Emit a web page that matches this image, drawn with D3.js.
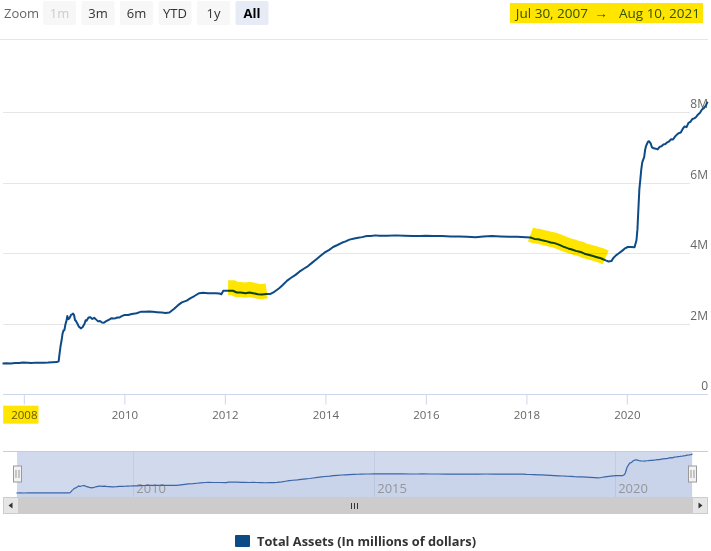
<!DOCTYPE html>
<html><head><meta charset="utf-8">
<script src="https://cdn.jsdelivr.net/npm/d3@7"></script>
<style>
html,body{margin:0;padding:0;background:#fff;}
svg{display:block;font-family:"Open Sans",sans-serif;}
</style></head><body>
<svg id="c" width="711" height="551"></svg>
<script>
// ---- data (Total Assets, millions of dollars) ----
const dates = [
"2007-07-30","2007-08-29","2007-09-26","2007-10-31","2007-11-28","2007-12-26",
"2008-01-30","2008-02-27","2008-03-26","2008-04-30","2008-05-28","2008-06-25","2008-07-30","2008-08-27",
"2008-09-10","2008-09-17","2008-09-24","2008-10-01","2008-10-08","2008-10-15","2008-10-22","2008-10-29",
"2008-11-05","2008-11-12","2008-11-19","2008-11-26","2008-12-03","2008-12-10","2008-12-17","2008-12-24","2008-12-31",
"2009-01-07","2009-01-14","2009-01-21","2009-01-28","2009-02-04","2009-02-11","2009-02-18","2009-02-25",
"2009-03-04","2009-03-18","2009-03-25","2009-04-01","2009-04-15","2009-04-29","2009-05-13","2009-05-27",
"2009-06-10","2009-06-24","2009-07-08","2009-07-22","2009-08-05","2009-08-19","2009-09-02","2009-09-16",
"2009-09-30","2009-10-14","2009-10-28","2009-11-11","2009-11-25","2009-12-09","2009-12-30",
"2010-01-27","2010-02-24","2010-03-31","2010-04-28","2010-05-26","2010-06-30","2010-07-28","2010-08-25",
"2010-09-29","2010-10-27","2010-11-24","2010-12-29",
"2011-01-26","2011-02-23","2011-03-30","2011-04-27","2011-05-25","2011-06-29","2011-07-27","2011-08-31",
"2011-09-28","2011-10-26","2011-11-23","2011-12-07","2011-12-21",
"2012-01-25","2012-02-29","2012-03-28","2012-04-25","2012-05-30","2012-06-27","2012-07-25","2012-08-29",
"2012-09-26","2012-10-31","2012-11-28","2012-12-26",
"2013-01-30","2013-02-27","2013-03-27","2013-04-24","2013-05-29","2013-06-26","2013-07-31","2013-08-28",
"2013-09-25","2013-10-30","2013-11-27","2013-12-25",
"2014-01-29","2014-02-26","2014-03-26","2014-04-30","2014-05-28","2014-06-25","2014-07-30","2014-08-27",
"2014-09-24","2014-10-29","2014-11-26","2014-12-31",
"2015-01-28","2015-03-25","2015-05-27","2015-07-29","2015-09-30","2015-11-25","2015-12-30",
"2016-02-24","2016-04-27","2016-06-29","2016-08-31","2016-10-26","2016-12-28",
"2017-02-22","2017-04-26","2017-06-28","2017-08-30","2017-10-25","2017-12-27",
"2018-01-31","2018-02-28","2018-03-28","2018-04-25","2018-05-30","2018-06-27","2018-07-25","2018-08-29",
"2018-09-26","2018-10-31","2018-11-28","2018-12-26",
"2019-01-30","2019-02-27","2019-03-27","2019-04-24","2019-05-29","2019-06-26","2019-07-31","2019-08-21",
"2019-09-11","2019-09-25","2019-10-16","2019-10-30","2019-11-27","2019-12-18",
"2020-01-08","2020-01-29","2020-02-26","2020-03-11","2020-03-18","2020-03-25","2020-04-01","2020-04-08",
"2020-04-15","2020-04-22","2020-04-29","2020-05-06","2020-05-13","2020-05-20","2020-05-27","2020-06-03",
"2020-06-10","2020-06-17","2020-06-24","2020-07-01","2020-07-15","2020-07-29","2020-08-12","2020-08-26",
"2020-09-09","2020-09-23","2020-10-07","2020-10-21","2020-11-04","2020-11-18","2020-12-02","2020-12-16","2020-12-30",
"2021-01-13","2021-01-27","2021-02-10","2021-02-24","2021-03-10","2021-03-24","2021-04-07","2021-04-21",
"2021-05-05","2021-05-19","2021-06-02","2021-06-16","2021-06-30","2021-07-14","2021-07-28","2021-08-10"
];
const assets = [
865000,872000,868000,880000,878000,892000,
888000,880000,890000,885000,890000,894000,902000,905000,
926000,1150000,1360000,1510000,1700000,1800000,1810000,1970000,
2060000,2210000,2120000,2140000,2190000,2250000,2260000,2280000,2240000,
2100000,2070000,2020000,1970000,1910000,1890000,1860000,1880000,
1900000,2000000,2090000,2080000,2170000,2180000,2130000,2160000,
2110000,2060000,2070000,2030000,2020000,2060000,2090000,2120000,
2150000,2140000,2150000,2170000,2170000,2200000,2240000,
2240000,2270000,2290000,2330000,2330000,2340000,2330000,2320000,
2310000,2300000,2310000,2420000,
2520000,2600000,2650000,2720000,2780000,2860000,2870000,2860000,
2860000,2860000,2850000,2830000,2930000,
2930000,2930000,2880000,2880000,2860000,2880000,2860000,2830000,
2820000,2840000,2840000,2900000,
3000000,3100000,3210000,3290000,3380000,3470000,3560000,3630000,
3720000,3830000,3920000,4010000,
4090000,4170000,4220000,4290000,4330000,4380000,4410000,4430000,
4450000,4480000,4480000,4500000,
4490000,4490000,4500000,4490000,4480000,4480000,4490000,
4480000,4480000,4470000,4470000,4460000,4450000,
4470000,4480000,4470000,4460000,4460000,4450000,
4440000,4400000,4390000,4360000,4330000,4300000,4280000,4230000,
4180000,4130000,4100000,4060000,
4030000,3980000,3950000,3920000,3880000,3850000,3790000,3760000,
3770000,3860000,3940000,3980000,4060000,4130000,
4170000,4170000,4160000,4360000,4670000,5250000,5810000,6080000,
6370000,6570000,6650000,6720000,6930000,7040000,7100000,7160000,
7170000,7140000,7090000,7000000,6970000,6960000,6940000,7010000,
7030000,7080000,7090000,7140000,7170000,7230000,7220000,7300000,7360000,
7400000,7420000,7520000,7590000,7570000,7690000,7720000,7800000,
7820000,7860000,7930000,7980000,8070000,8110000,8180000,8290000
];
const yTickValues = [0, 2000000, 4000000, 6000000, 8000000];
const yTickLabels = ["0", "2M", "4M", "6M", "8M"];
const xTickYears = [2008, 2010, 2012, 2014, 2016, 2018, 2020];
const navTickYears = [2010, 2015, 2020];
const zoomButtons = ["1m", "3m", "6m", "YTD", "1y", "All"];
const rangeStart = "Jul 30, 2007";
const rangeEnd = "Aug 10, 2021";
const legendLabel = "Total Assets (In millions of dollars)";
const highlightRanges = [["2012-01-20", "2012-11-05"], ["2018-01-05", "2019-08-12"]];

// ---- build ----
const parse = d3.timeParse("%Y-%m-%d");
const data = dates.map((d, i) => ({ date: parse(d), value: assets[i] }));
const svg = d3.select("#c");
const lineColor = "#0d4a86";
const yellow = "#ffe500";

const x = d3.scaleTime().domain(d3.extent(data, d => d.date)).range([2.5, 707.6]);
const y = d3.scaleLinear().domain([0, 10000000]).range([394, 41.5]);

svg.append("line").attr("x1", 0).attr("x2", 708).attr("y1", y(10000000) - 2).attr("y2", y(10000000) - 2)
  .attr("stroke", "#e6e6e6").attr("stroke-width", 1);

svg.append("g").selectAll("line").data(yTickValues.slice(1)).join("line")
  .attr("x1", 3).attr("x2", 690)
  .attr("y1", d => Math.round(y(d)) + 0.5).attr("y2", d => Math.round(y(d)) + 0.5)
  .attr("stroke", "#e6e6e6");

svg.append("g").selectAll("text").data(yTickValues).join("text")
  .attr("x", 708).attr("y", d => y(d) - 4)
  .attr("text-anchor", "end").attr("font-size", 12).attr("fill", "#666")
  .text((d, i) => yTickLabels[i]);

const xAxis = d3.axisBottom(x)
  .tickValues(xTickYears.map(yr => new Date(yr, 0, 1)))
  .tickFormat(d3.timeFormat("%Y"))
  .tickSize(10).tickSizeOuter(0).tickPadding(6);
const gx = svg.append("g").attr("transform", `translate(0,${Math.round(y(0)) + 0.5})`).call(xAxis);
gx.select(".domain").attr("stroke", "#ccd6eb").attr("d", "M3,0H708");
gx.selectAll(".tick line").attr("stroke", "#ccd6eb");
gx.selectAll(".tick text").attr("font-size", 11.5).attr("fill", "#666").attr("font-family", "Open Sans");

const line = d3.line().x(d => x(d.date)).y(d => y(d.value));
svg.append("path").datum(data).attr("d", line)
  .attr("fill", "none").attr("stroke", lineColor).attr("stroke-width", 2).attr("stroke-linejoin", "round");

// ---- range selector ----
svg.append("text").attr("x", 4).attr("y", 18).attr("font-size", 13).attr("fill", "#666").text("Zoom");
const bg = svg.append("g");
zoomButtons.forEach((b, i) => {
  const bx = 43 + i * 38.5;
  const sel = b === "All", dis = b === "1m";
  bg.append("rect").attr("x", bx).attr("y", 1).attr("width", 33).attr("height", 24).attr("rx", 2)
    .attr("fill", sel ? "#e6ebf5" : "#f7f7f7");
  bg.append("text").attr("x", bx + 16.5).attr("y", 18).attr("text-anchor", "middle")
    .attr("font-size", 13).attr("font-weight", sel ? "bold" : "normal")
    .attr("fill", dis ? "#cccccc" : (sel ? "#000" : "#333")).text(b);
});
const rg = svg.append("g").attr("font-size", 13.5).attr("fill", "#335cad");
const t1 = rg.append("text").attr("x", 588).attr("y", 18).attr("text-anchor", "end").text(rangeStart);
rg.append("text").attr("x", 601).attr("y", 18).attr("text-anchor", "middle").attr("fill", "#444").text("\u2192");
const t2 = rg.append("text").attr("x", 619).attr("y", 18).attr("text-anchor", "start").text(rangeEnd);

// ---- navigator ----
const nx = d3.scaleTime().domain(x.domain()).range([16.4, 692.6]);
const ny = d3.scaleLinear().domain(d3.extent(data, d => d.value)).range([493, 454]);
const navTop = 451.5, navBottom = 497;
svg.append("rect").attr("x", 17).attr("y", navTop).attr("width", 675).attr("height", navBottom - navTop)
  .attr("fill", "rgba(102,133,194,0.3)");
svg.append("g").selectAll("line").data(navTickYears).join("line")
  .attr("x1", d => Math.round(nx(new Date(d, 0, 1))) + 0.5).attr("x2", d => Math.round(nx(new Date(d, 0, 1))) + 0.5)
  .attr("y1", navTop).attr("y2", navBottom).attr("stroke", "#c2cce2");
svg.append("g").selectAll("text").data(navTickYears).join("text")
  .attr("x", d => nx(new Date(d, 0, 1)) + 3).attr("y", 493)
  .attr("font-size", 13).attr("fill", "#999").text(d => d);
const narea = d3.area().x(d => nx(d.date)).y0(navBottom).y1(d => ny(d.value));
svg.append("path").datum(data).attr("d", narea).attr("fill", "#335cad").attr("fill-opacity", 0.05);
const nline = d3.line().x(d => nx(d.date)).y(d => ny(d.value));
svg.append("path").datum(data).attr("d", nline).attr("fill", "none").attr("stroke", "#3a66a8").attr("stroke-width", 1.2);
svg.append("path").attr("d", `M3,${navTop}H708`).attr("stroke", "#cccccc").attr("fill", "none");
[17, 692].forEach(hx => {
  const h = svg.append("g").attr("transform", `translate(${Math.round(hx) + 0.5},0)`);
  h.append("rect").attr("x", -4).attr("y", 466).attr("width", 8).attr("height", 16)
    .attr("fill", "#f2f2f2").attr("stroke", "#999");
  h.append("path").attr("d", "M-1.5,470V478M1.5,470V478").attr("stroke", "#999");
});
const sbY = 497, sbH = 17;
svg.append("rect").attr("x", 3).attr("y", sbY).attr("width", 705).attr("height", sbH).attr("fill", "#f2f2f2");
svg.append("rect").attr("x", 17).attr("y", sbY).attr("width", 675).attr("height", sbH).attr("fill", "#cccccc");
[[3, "M12.5,502.5L8.5,505.5L12.5,508.5Z"], [692, "M698.5,502.5L702.5,505.5L698.5,508.5Z"]].forEach(([bx, p]) => {
  svg.append("rect").attr("x", bx + 0.5).attr("y", sbY + 0.5).attr("width", 15).attr("height", sbH - 1)
    .attr("fill", "#e6e6e6").attr("stroke", "#cccccc");
  svg.append("path").attr("d", p).attr("fill", "#333");
});
svg.append("path").attr("d", "M351.5,503V509M354.5,503V509M357.5,503V509").attr("stroke", "#333");

// ---- legend ----
svg.append("rect").attr("x", 235).attr("y", 535).attr("width", 15).attr("height", 12).attr("rx", 1).attr("fill", lineColor);
svg.append("text").attr("x", 257).attr("y", 546).attr("font-size", 12.8).attr("font-weight", "bold")
  .attr("fill", "#333").text(legendLabel);

// ---- yellow highlighter marks ----
const hl = svg.append("g").style("mix-blend-mode", "multiply");
highlightRanges.forEach(([a, b]) => {
  const da = parse(a), db = parse(b);
  const seg = data.filter(d => d.date >= da && d.date <= db);
  hl.append("path").datum(seg).attr("d", line).attr("transform", "translate(0,-3)")
    .attr("fill", "none").attr("stroke", yellow).attr("stroke-width", 15).attr("stroke-linecap", "butt")
    .style("mix-blend-mode", "multiply");
});
const bb1 = t1.node().getBBox(), bb2 = t2.node().getBBox();
hl.append("rect").attr("x", bb1.x - 4).attr("y", 3).attr("width", bb2.x + bb2.width + 3 - (bb1.x - 4)).attr("height", 20)
  .attr("fill", yellow).style("mix-blend-mode", "multiply");
const firstLabel = gx.selectAll(".tick text").filter((d, i) => i === 0).node();
const fb = firstLabel.getBBox();
const fm = firstLabel.getCTM();
hl.append("rect").attr("x", fm.e + fb.x - 8).attr("y", fm.f + fb.y - 1).attr("width", fb.width + 9).attr("height", fb.height + 3)
  .attr("fill", yellow).style("mix-blend-mode", "multiply");
</script>
</body></html>
